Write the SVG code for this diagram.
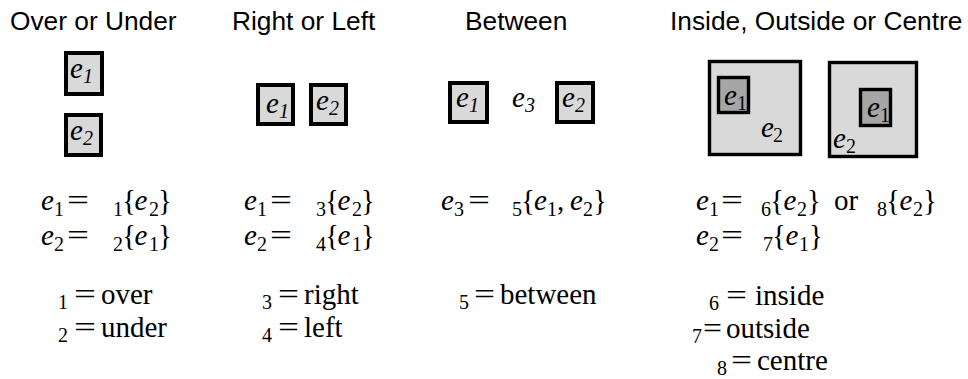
<svg xmlns="http://www.w3.org/2000/svg" width="968" height="379" viewBox="0 0 968 379">
<style>
.t{font-family:"Liberation Sans",Arial,sans-serif;font-size:26.3px;fill:#000}
.m{font-family:"Liberation Serif","Times New Roman",serif;font-size:29px;fill:#000}
.i{font-style:italic}
.s{font-family:"Liberation Serif","Times New Roman",serif;font-size:20px;fill:#000}
.b{fill:#d9d9d9;stroke:#000;stroke-width:4}
.B{fill:#d9d9d9;stroke:#000;stroke-width:3.4}
.d{fill:#a6a6a6;stroke:#000;stroke-width:3.4}
</style>
<rect width="968" height="379" fill="#fff"/>
<g id="titles">
<text class="t" x="10" y="30">Over or Under</text>
<text class="t" x="232" y="30">Right or Left</text>
<text class="t" x="465" y="30">Between</text>
<text class="t" x="670" y="30">Inside, Outside or Centre</text>
</g>
<g id="over-e1"><rect class="b" x="66" y="53" width="36" height="41"/><text class="m i" x="70" y="78">e</text><text class="s i" x="83" y="83">1</text></g>
<g id="over-e2"><rect class="b" x="66" y="115" width="35" height="40"/><text class="m i" x="70" y="140">e</text><text class="s i" x="83" y="145">2</text></g>
<g id="right-e1"><rect class="b" x="258" y="85" width="35" height="39"/><text class="m i" x="266" y="113">e</text><text class="s i" x="279" y="118">1</text></g>
<g id="right-e2"><rect class="b" x="311" y="85" width="35" height="39"/><text class="m i" x="316" y="110">e</text><text class="s i" x="329" y="115">2</text></g>
<g id="between-e1"><rect class="b" x="450" y="83" width="37" height="39"/><text class="m i" x="456" y="107">e</text><text class="s i" x="469" y="112">1</text></g>
<g id="between-e3"><text class="m i" x="512" y="107">e</text><text class="s i" x="525" y="112">3</text></g>
<g id="between-e2"><rect class="b" x="557" y="83" width="36" height="39"/><text class="m i" x="562" y="107">e</text><text class="s i" x="575" y="112">2</text></g>
<g id="inside-e2"><rect class="B" x="709.5" y="61.5" width="91" height="93"/><text class="m i" x="761" y="137">e</text><text class="s" x="773" y="142">2</text></g>
<g id="inside-e1"><rect class="d" x="718.5" y="77.5" width="30" height="35"/><text class="m i" x="724" y="105">e</text><text class="s" x="737" y="110">1</text></g>
<g id="centre-e2"><rect class="B" x="829.5" y="62.5" width="87" height="94"/><text class="m i" x="833" y="148">e</text><text class="s" x="846" y="153">2</text></g>
<g id="centre-e1"><rect class="d" x="860.5" y="89.5" width="30" height="36"/><text class="m i" x="867" y="117">e</text><text class="s" x="880" y="122">1</text></g>
<g id="connectors"></g>
<g id="formulas">
<!-- col1 -->
<text class="m i" x="41" y="210">e</text><text class="s" x="54" y="216">1</text><text class="m" x="67" y="210" textLength="22" lengthAdjust="spacingAndGlyphs">=</text>
<text class="s" x="113" y="216">1</text><text class="m" x="122" y="210">{</text><text class="m i" x="134.5" y="210">e</text><text class="s" x="149" y="216">2</text><text class="m" x="158" y="210">}</text>
<text class="m i" x="41" y="245">e</text><text class="s" x="54" y="251">2</text><text class="m" x="67" y="245" textLength="22" lengthAdjust="spacingAndGlyphs">=</text>
<text class="s" x="113" y="251">2</text><text class="m" x="122" y="245">{</text><text class="m i" x="134.5" y="245">e</text><text class="s" x="149" y="251">1</text><text class="m" x="158" y="245">}</text>
<text class="s" x="58" y="309">1</text><text class="m" x="74" y="304" textLength="22" lengthAdjust="spacingAndGlyphs">=</text><text class="m" x="101" y="304">over</text>
<text class="s" x="58" y="342">2</text><text class="m" x="74" y="337" textLength="22" lengthAdjust="spacingAndGlyphs">=</text><text class="m" x="101" y="337">under</text>
<!-- col2 -->
<text class="m i" x="244" y="210">e</text><text class="s" x="257" y="216">1</text><text class="m" x="270" y="210" textLength="22" lengthAdjust="spacingAndGlyphs">=</text>
<text class="s" x="316" y="216">3</text><text class="m" x="325" y="210">{</text><text class="m i" x="337.5" y="210">e</text><text class="s" x="352" y="216">2</text><text class="m" x="361" y="210">}</text>
<text class="m i" x="244" y="245">e</text><text class="s" x="257" y="251">2</text><text class="m" x="270" y="245" textLength="22" lengthAdjust="spacingAndGlyphs">=</text>
<text class="s" x="316" y="251">4</text><text class="m" x="325" y="245">{</text><text class="m i" x="337.5" y="245">e</text><text class="s" x="352" y="251">1</text><text class="m" x="361" y="245">}</text>
<text class="s" x="262" y="309">3</text><text class="m" x="278" y="304" textLength="21" lengthAdjust="spacingAndGlyphs">=</text><text class="m" x="304" y="304">right</text>
<text class="s" x="262" y="342">4</text><text class="m" x="278" y="337" textLength="21" lengthAdjust="spacingAndGlyphs">=</text><text class="m" x="304" y="337">left</text>
<!-- col3 -->
<text class="m i" x="441" y="210">e</text><text class="s" x="454" y="216">3</text><text class="m" x="468" y="210" textLength="22" lengthAdjust="spacingAndGlyphs">=</text>
<text class="s" x="512" y="216">5</text><text class="m" x="521" y="210">{</text><text class="m i" x="534" y="210">e</text><text class="s" x="547" y="216">1</text><text class="m" x="557" y="210">,</text><text class="m i" x="570" y="210">e</text><text class="s" x="583" y="216">2</text><text class="m" x="593" y="210">}</text>
<text class="s" x="459" y="309">5</text><text class="m" x="474" y="304" textLength="21" lengthAdjust="spacingAndGlyphs">=</text><text class="m" x="500" y="304">between</text>
<!-- col4 -->
<text class="m i" x="696" y="210">e</text><text class="s" x="709" y="216">1</text><text class="m" x="721" y="210" textLength="22" lengthAdjust="spacingAndGlyphs">=</text>
<text class="s" x="761" y="216">6</text><text class="m" x="770" y="210">{</text><text class="m i" x="783.5" y="210">e</text><text class="s" x="797" y="216">2</text><text class="m" x="807" y="210">}</text>
<text class="m" x="834" y="210">or</text>
<text class="s" x="877" y="216">8</text><text class="m" x="886" y="210">{</text><text class="m i" x="899.5" y="210">e</text><text class="s" x="913" y="216">2</text><text class="m" x="923" y="210">}</text>
<text class="m i" x="696" y="245">e</text><text class="s" x="709" y="251">2</text><text class="m" x="721" y="245" textLength="22" lengthAdjust="spacingAndGlyphs">=</text>
<text class="s" x="763" y="251">7</text><text class="m" x="772" y="245">{</text><text class="m i" x="785.5" y="245">e</text><text class="s" x="799" y="251">1</text><text class="m" x="809" y="245">}</text>
<text class="s" x="709" y="310">6</text><text class="m" x="726" y="305" textLength="21" lengthAdjust="spacingAndGlyphs">=</text><text class="m" x="755" y="305">inside</text>
<text class="s" x="692" y="343">7</text><text class="m" x="703" y="338" textLength="19" lengthAdjust="spacingAndGlyphs">=</text><text class="m" x="726" y="338">outside</text>
<text class="s" x="717" y="375">8</text><text class="m" x="731" y="370" textLength="21" lengthAdjust="spacingAndGlyphs">=</text><text class="m" x="757" y="370">centre</text>
</g>
</svg>
